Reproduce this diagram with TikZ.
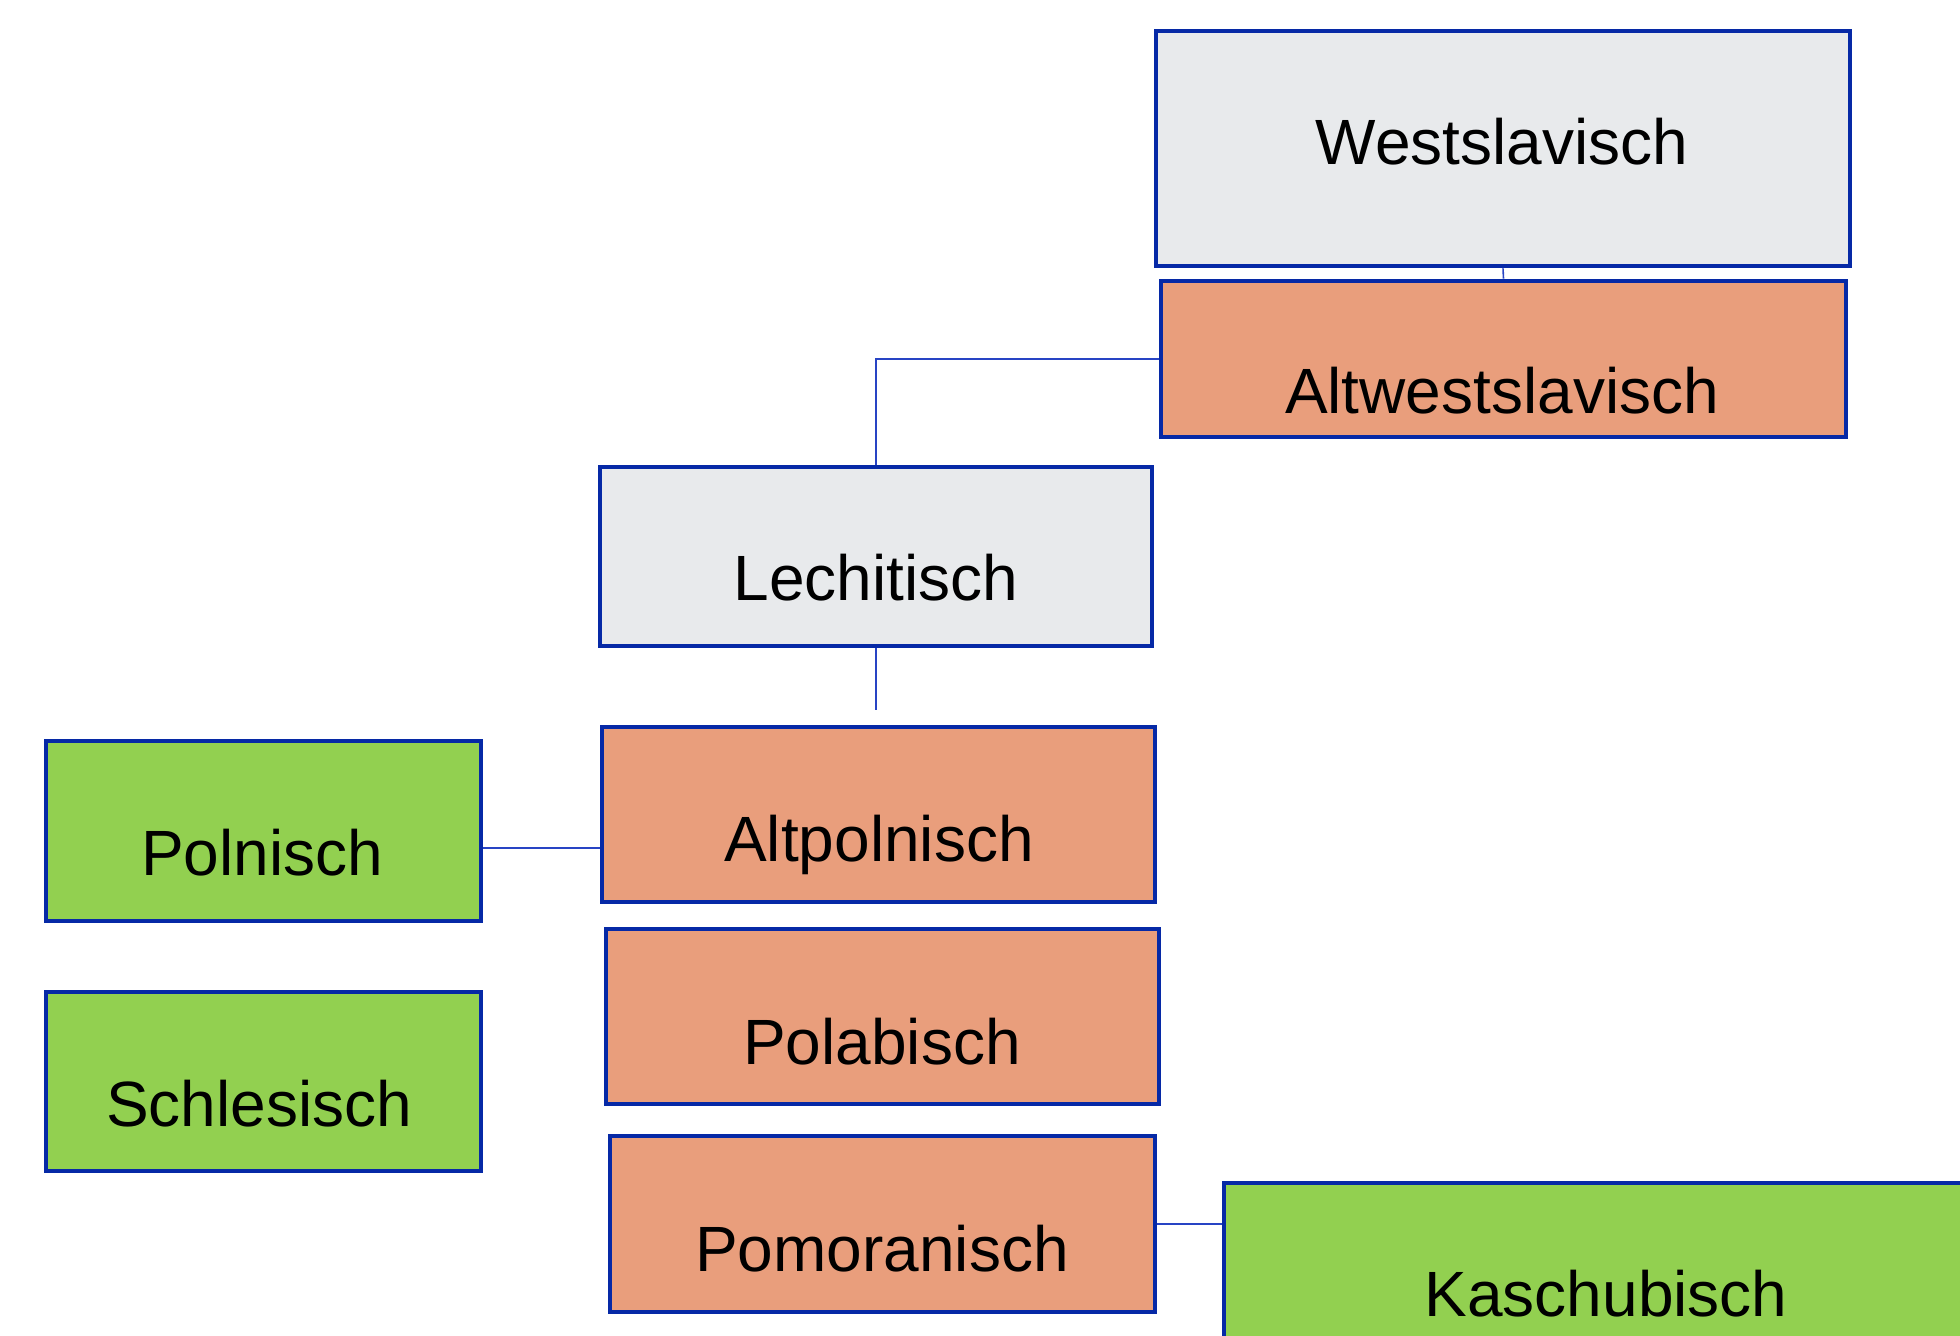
\documentclass[tikz,border=0pt]{standalone}
\usepackage{fontspec}
\setmainfont{Liberation Sans}
\usetikzlibrary{positioning}

\definecolor{boxblue}{HTML}{0629A6}
\definecolor{linkblue}{HTML}{2844C4}
\definecolor{greyfill}{HTML}{E8EAEC}
\definecolor{oldfill}{HTML}{E99E7C}
\definecolor{livefill}{HTML}{92D050}

\tikzset{
    langbox/.style={draw=boxblue, line width=2.3pt, rectangle, inner sep=0pt},
    group/.style={langbox, fill=greyfill},
    old/.style={langbox, fill=oldfill},
    living/.style={langbox, fill=livefill},
    langname/.style={anchor=base, inner sep=0pt, font=\fontsize{32}{38}\selectfont},
    link/.style={draw=linkblue, line width=0.8pt}
}

\begin{document}
\begin{tikzpicture}[x=0.5pt, y=-0.5pt]
    \clip (0,0) rectangle (1960,1336);

    % boxes
    \node[group,  minimum width=347pt,   minimum height=117.5pt] (west)   at (1503,148.5)  {};
    \node[old,    minimum width=342.5pt, minimum height=78pt]    (altw)   at (1503.5,359)  {};
    \node[group,  minimum width=276pt,   minimum height=89.5pt]  (lech)   at (876,556.5)   {};
    \node[old,    minimum width=276.5pt, minimum height=87.5pt]  (altp)   at (878.5,814.5) {};
    \node[old,    minimum width=276.5pt, minimum height=87.5pt]  (polab)  at (882.5,1016.5){};
    \node[old,    minimum width=272.5pt, minimum height=88pt]    (pom)    at (882.5,1224)  {};
    \node[living, minimum width=217.5pt, minimum height=90pt]    (poln)   at (263.5,831)   {};
    \node[living, minimum width=217.5pt, minimum height=89.5pt]  (schl)   at (263.5,1081.5){};
    \node[living, minimum width=393pt,   minimum height=118.5pt] (kasch)  at (1617,1301.5) {};

    % labels
    \node[langname] (westT)  at (1502,165)  {Westslavisch};
    \node[langname] (altwT)  at (1502,414)  {Altwestslavisch};
    \node[langname] (lechT)  at (876,601)   {Lechitisch};
    \node[langname] (altpT)  at (879,861)   {Altpolnisch};
    \node[langname] (polnT)  at (262,875)   {Polnisch};
    \node[langname] (polabT) at (882,1064)  {Polabisch};
    \node[langname] (schlT)  at (259,1126)  {Schlesisch};
    \node[langname] (pomT)   at (882,1271)  {Pomoranisch};
    \node[langname] (kaschT) at (1606,1316) {Kaschubisch};

    % connectors
    \coordinate (lechEnd) at (876,710);
    \coordinate (polnY)   at (0,848);
    \path[link] (west.south)         edge (altw.north)
                (altw.west)          edge [to path={-| (\tikztotarget)}] (lech.north)
                (lech.south)         edge (lechEnd)
                (poln.east |- polnY) edge (altp.west |- polnY)
                (pom.east)           edge (pom.east -| kasch.west);
\end{tikzpicture}
\end{document}
